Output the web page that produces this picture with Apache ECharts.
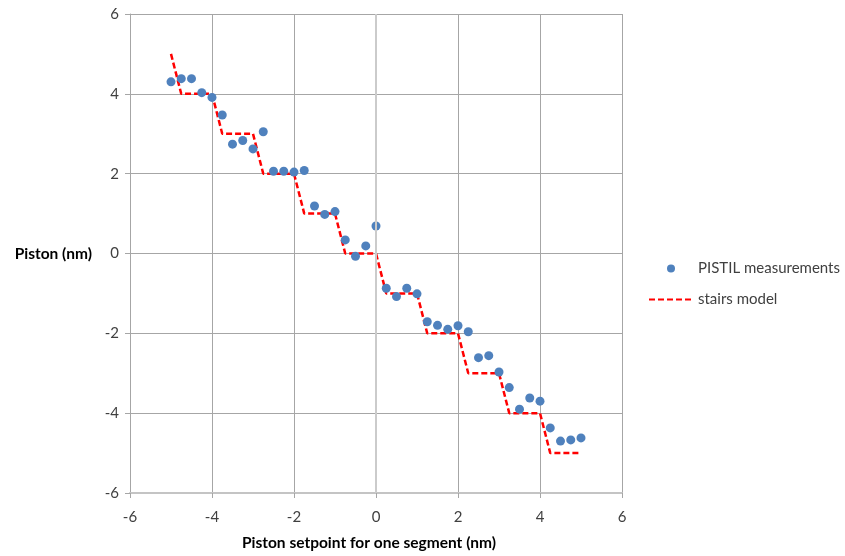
<!DOCTYPE html>
<html>
<head>
<meta charset="utf-8">
<script src="https://cdn.jsdelivr.net/npm/echarts@6/dist/echarts.min.js"></script>
<style>
  html, body { margin: 0; padding: 0; background: #fff; }
  #chart { width: 845px; height: 556px; }
</style>
</head>
<body>
<div id="chart"></div>
<script>
  // piston setpoint (nm)
  var setpoints = [-5, -4.75, -4.5, -4.25, -4, -3.75, -3.5, -3.25, -3, -2.75, -2.5, -2.25, -2, -1.75, -1.5, -1.25, -1, -0.75, -0.5, -0.25,
    0, 0.25, 0.5, 0.75, 1, 1.25, 1.5, 1.75, 2, 2.25, 2.5, 2.75, 3, 3.25, 3.5, 3.75, 4, 4.25, 4.5, 4.75, 5];
  // PISTIL measured piston (nm)
  var measured = [4.30, 4.38, 4.38, 4.03, 3.91, 3.47, 2.74, 2.83, 2.62, 3.05, 2.06, 2.06, 2.04, 2.08, 1.19, 0.98, 1.05, 0.34, -0.07, 0.19,
    0.69, -0.87, -1.08, -0.87, -1.01, -1.71, -1.80, -1.90, -1.81, -1.96, -2.61, -2.56, -2.97, -3.36, -3.90, -3.62, -3.70, -4.37, -4.70, -4.67, -4.62];
  // stairs model (nm)
  var stairs = [5, 4, 4, 4, 4, 3, 3, 3, 3, 2, 2, 2, 2, 1, 1, 1, 1, 0, 0, 0,
    0, -1, -1, -1, -1, -2, -2, -2, -2, -3, -3, -3, -3, -4, -4, -4, -4, -5, -5, -5, -5];

  var font = 'Lato, "Open Sans", sans-serif';

  var chart = echarts.init(document.getElementById('chart'));

  var measPts = setpoints.map(function (x, i) { return [x, measured[i]]; });
  var stairPts = setpoints.map(function (x, i) { return [x, stairs[i]]; });

  var option = {
    backgroundColor: '#fff',
    animation: false,
    textStyle: { fontFamily: font },
    grid: { left: 130, right: 223, top: 14, bottom: 61 },
    legend: {
      orient: 'vertical',
      left: 643,
      top: 256,
      itemWidth: 44,
      itemHeight: 8,
      itemGap: 16,
      textStyle: { fontFamily: font, fontSize: 15, color: '#404040' },
      data: [
        { name: 'PISTIL measurements', icon: 'circle' },
        // hide the default marker so only the dashed line shows
        { name: 'stairs model', itemStyle: { opacity: 0 } }
      ]
    },
    xAxis: {
      type: 'value',
      min: -6, max: 6, interval: 2,
      name: 'Piston setpoint for one segment (nm)',
      nameLocation: 'middle',
      nameGap: 42,
      nameTextStyle: { fontFamily: font, fontSize: 15.5, fontWeight: 'bold', color: '#000', padding: [0, 14, 0, 0] },
      axisLine: { onZero: false, lineStyle: { color: '#c4c4c4', width: 2 } },
      axisTick: { show: true, inside: false, length: 5, lineStyle: { color: '#a6a6a6' } },
      axisLabel: { fontSize: 15, color: '#404040', margin: 17 },
      splitLine: { show: true, lineStyle: { color: '#a6a6a6', width: 1 } }
    },
    yAxis: {
      type: 'value',
      min: -6, max: 6, interval: 2,
      name: 'Piston (nm)',
      nameLocation: 'middle',
      nameRotate: 0,
      nameGap: 38,
      nameTextStyle: { fontFamily: font, fontSize: 15.5, fontWeight: 'bold', color: '#000', align: 'right' },
      axisLine: { show: true, onZero: false, lineStyle: { color: '#a6a6a6', width: 1 } },
      axisTick: { show: true, inside: false, length: 5, lineStyle: { color: '#a6a6a6' } },
      axisLabel: { fontSize: 15, color: '#404040', margin: 11 },
      splitLine: { show: true, lineStyle: { color: '#a6a6a6', width: 1 } }
    },
    series: [
      {
        name: 'stairs model',
        type: 'line',
        data: stairPts,
        symbol: 'none',
        color: '#ff0000',
        lineStyle: { color: '#ff0000', width: 2.5, type: [6, 3] },
        markLine: {
          silent: true,
          symbol: 'none',
          label: { show: false },
          lineStyle: { color: '#cbcbcb', width: 2, type: 'solid' },
          data: [{ xAxis: 0 }]
        },
        z: 2
      },
      {
        name: 'PISTIL measurements',
        type: 'scatter',
        data: measPts,
        symbol: 'circle',
        symbolSize: 9,
        itemStyle: { color: '#4f81bd', opacity: 1 },
        z: 3
      }
    ]
  };

  chart.setOption(option);
</script>
</body>
</html>
